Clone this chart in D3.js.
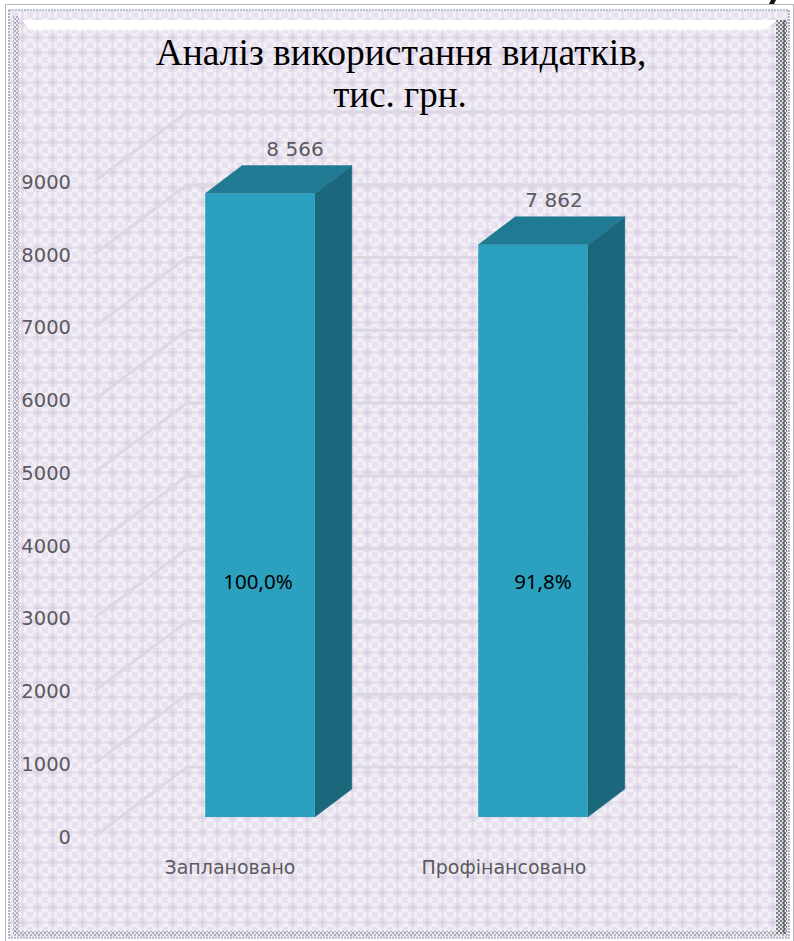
<!DOCTYPE html>
<html><head><meta charset="utf-8">
<script src="https://cdn.jsdelivr.net/npm/d3@7/dist/d3.min.js"></script>
<style>html,body{margin:0;padding:0;background:#fff}svg{display:block}</style></head>
<body><script>
const titleLines = ["Аналіз використання видатків,", "тис. грн."];
const categories = ["Заплановано", "Профінансовано"];
const values = [8566, 7862];
const valueLabels = ["8 566", "7 862"];
const percentLabels = ["100,0%", "91,8%"];
const tickValues = [0,1000,2000,3000,4000,5000,6000,7000,8000,9000];

const W=794,H=941;
const svg=d3.select("body").append("svg").attr("width",W).attr("height",H);
const defs=svg.append("defs");
const p=defs.append("pattern").attr("id","tex").attr("patternUnits","userSpaceOnUse").attr("width",15).attr("height",15);
p.append("rect").attr("width",15).attr("height",15).attr("fill","#f3eff6");
for(let i=0;i<5;i++)for(let j=0;j<5;j++){ if((i+j)%2==0) p.append("rect").attr("x",i*3).attr("y",j*3).attr("width",3).attr("height",3).attr("fill","#e8e2ef");}
p.append("rect").attr("x",6).attr("y",3).attr("width",3).attr("height",9).attr("fill","#e1d9ea");
p.append("rect").attr("x",3).attr("y",6).attr("width",9).attr("height",3).attr("fill","#e1d9ea");
p.append("rect").attr("x",6).attr("y",6).attr("width",3).attr("height",3).attr("fill","#d8cee5");
const d=defs.append("pattern").attr("id","edge").attr("patternUnits","userSpaceOnUse").attr("width",4).attr("height",4);
d.append("rect").attr("width",4).attr("height",4).attr("fill","#e6e6ea");
d.append("rect").attr("width",2).attr("height",2).attr("fill","#77777f");
d.append("rect").attr("x",2).attr("y",2).attr("width",2).attr("height",2).attr("fill","#77777f");
const lg=defs.append("linearGradient").attr("id","wb").attr("x1",0).attr("x2",0).attr("y1",0).attr("y2",1);
lg.append("stop").attr("offset",0).attr("stop-color","#fff");
lg.append("stop").attr("offset",.75).attr("stop-color","#fff");
lg.append("stop").attr("offset",1).attr("stop-color","#fff").attr("stop-opacity",.2);

// frame
svg.append("rect").attr("x",5.5).attr("y",4.5).attr("width",W-6).attr("height",H-1).attr("fill","#fff").attr("stroke","#b4b7c0");
svg.append("rect").attr("x",9).attr("y",10).attr("width",780).attr("height",928).attr("fill","#f3eff6").attr("stroke","#7c88a6").attr("stroke-width",1.2).attr("stroke-dasharray","2 1");
svg.append("rect").attr("x",10).attr("y",11).attr("width",778).attr("height",926).attr("fill","url(#tex)");
// bevel bands
svg.append("rect").attr("x",13).attr("y",16).attr("width",6).attr("height",916).attr("fill","url(#edge)").attr("opacity",.5);
svg.append("rect").attr("x",13).attr("y",931).attr("width",774).attr("height",5).attr("fill","url(#edge)").attr("opacity",.5);
svg.append("rect").attr("x",776).attr("y",20).attr("width",11).attr("height",914).attr("fill","url(#edge)");
svg.append("rect").attr("x",783).attr("y",20).attr("width",2).attr("height",914).attr("fill","#55555c").attr("opacity",.6);
svg.append("path").attr("d","M22 20H777L765 31H30Z").attr("fill","url(#wb)");
// black corner mark
svg.append("path").attr("d","M771 0H776L774 4H769Z").attr("fill","#111");

// scales
const y=d3.scaleLinear().domain([0,9000]).range([836,181]);
const depthX=92, depthY=-69;   // wall depth
const wallEnd=738;
const barDepthX=37, barDepthY=-28, barBase=817;
const x=d3.scaleBand().domain(categories).range([123.5,669.5]).paddingInner(.5985).paddingOuter(.29925);
const h=v=>y(0)-y(v);

// gridlines
const grid=svg.append("g").attr("fill","none").attr("stroke","#dcd8e2").attr("stroke-width",3);
tickValues.forEach(t=>{
  grid.append("path").attr("d",`M95 ${y(t)}L${95+depthX} ${y(t)+depthY}H${wallEnd}`);
});

// y axis
const axis=d3.axisLeft(y).tickValues(tickValues).tickSize(0).tickPadding(0).tickFormat(d3.format("d"));
const ag=svg.append("g").attr("transform","translate(71,1)").call(axis);
ag.select(".domain").remove();
ag.selectAll("text").attr("font-family","DejaVu Sans").attr("font-size",19.5).attr("fill","#5c5a60");

// bars
const bars=svg.append("g").selectAll("g").data(categories).join("g");
bars.each(function(c,i){
  const g=d3.select(this), x0=x(c), bw=x.bandwidth(), top=barBase-h(values[i]);
  g.append("path").attr("fill","#1b677b").attr("stroke","#1b677b").attr("stroke-width",.5).attr("d",`M${x0+bw} ${top}l${barDepthX} ${barDepthY}V${barBase+barDepthY}L${x0+bw} ${barBase}Z`);
  g.append("path").attr("fill","#217a94").attr("stroke","#217a94").attr("stroke-width",.5).attr("d",`M${x0} ${top}l${barDepthX} ${barDepthY}H${x0+bw+barDepthX}L${x0+bw} ${top}Z`);
  g.append("rect").attr("x",x0).attr("y",top).attr("width",bw).attr("height",h(values[i])).attr("fill","#2ba1bf");
});

// labels
const valueOffset=[35,21], catOffset=[-30,-29], percentOffset=[-2,10];
const font="DejaVu Sans";
svg.append("g").selectAll("text").data(valueLabels).join("text")
  .attr("x",(d,i)=>x(categories[i])+x.bandwidth()/2+valueOffset[i])
  .attr("y",(d,i)=>barBase-h(values[i])-38)
  .attr("text-anchor","middle").attr("font-family",font).attr("font-size",20).attr("fill","#5c5a60").text(d=>d);
svg.append("g").selectAll("text").data(categories).join("text")
  .attr("x",(d,i)=>x(d)+x.bandwidth()/2+catOffset[i]).attr("y",874)
  .attr("text-anchor","middle").attr("font-family",font).attr("font-size",19).attr("fill","#5c5a60").text(d=>d);
svg.append("g").selectAll("text").data(percentLabels).join("text")
  .attr("x",(d,i)=>x(categories[i])+x.bandwidth()/2+percentOffset[i]).attr("y",589)
  .attr("text-anchor","middle").attr("font-family","Noto Sans").attr("font-size",20.5).attr("fill","#000").text(d=>d);
svg.append("g").selectAll("text").data(titleLines).join("text")
  .attr("x",(d,i)=>i?400:401).attr("y",(d,i)=>65+i*42)
  .attr("text-anchor","middle").attr("font-family","Liberation Serif").attr("font-size",(d,i)=>i?37:37.5).attr("fill","#000").text(d=>d);
</script></body></html>
